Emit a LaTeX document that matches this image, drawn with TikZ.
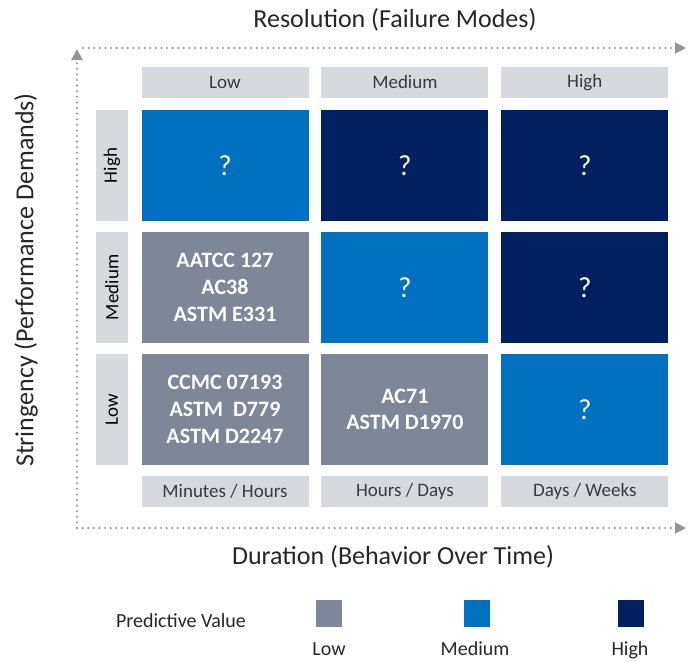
\documentclass[tikz,border=0pt]{standalone}
\usepackage{fontspec}
\setmainfont{Carlito}
\usetikzlibrary{arrows.meta,positioning}
\definecolor{pvLow}{HTML}{7D8797}
\definecolor{pvMed}{HTML}{0070C0}
\definecolor{pvHigh}{HTML}{002060}
\definecolor{pvHead}{HTML}{D6DADF}
\definecolor{pvInk}{HTML}{262626}
\definecolor{pvText}{HTML}{3A3A3A}
\definecolor{pvAxis}{HTML}{959595}
\tikzset{
  pvcell/.style={
    rectangle, minimum width=167pt, minimum height=111pt, inner sep=0pt,
    text=white, align=center, font=\fontsize{22}{26.7}\selectfont\bfseries
  },
  pvlow/.style={pvcell, fill=pvLow},
  pvmed/.style={pvcell, fill=pvMed},
  pvhigh/.style={pvcell, fill=pvHigh},
  pvask/.style={font=\fontsize{29}{32}\selectfont},
  pvhead/.style={
    rectangle, fill=pvHead, minimum width=167pt, minimum height=31pt,
    inner sep=0pt, text=pvText, font=\fontsize{19}{22}\selectfont
  },
  pvside/.style={
    rectangle, fill=pvHead, rotate=90, minimum width=111pt, minimum height=32pt,
    inner sep=0pt, text=black, font=\fontsize{19}{22}\selectfont
  },
  pvtitle/.style={text=pvInk, inner sep=0pt, anchor=base, font=\fontsize{26}{30}\selectfont},
  pvkey/.style={text=pvInk, inner sep=0pt, anchor=base, font=\fontsize{20}{24}\selectfont},
  pvswatch/.style={rectangle, minimum width=26pt, minimum height=27pt, inner sep=0pt},
  pvaxis/.style={
    draw=pvAxis, line width=2.3pt, line cap=round, dash pattern=on 0pt off 5.6pt,
    -{Triangle[length=11pt, width=11pt]}
  }
}

\begin{document}
\begin{tikzpicture}[x=1pt, y=-1pt, node distance=10.5pt and 12.5pt]
\useasboundingbox (0,0) rectangle (692,661);

% Matriz de celdas (fila = exigencia, columna = resolución)
\node[pvmed, pvask] (hl) at (225,165.5) {?};
\node[pvhigh, pvask, right=of hl] (hm) {?};
\node[pvhigh, pvask, right=of hm] (hh) {?};
\node[pvlow, below=of hl] (ml) {AATCC 127\\AC38\\ASTM E331};
\node[pvmed, pvask, right=of ml] (mm) {?};
\node[pvhigh, pvask, right=of mm] (mh) {?};
\node[pvlow, below=of ml] (ll) {CCMC 07193\\ASTM\ \ D779\\ASTM D2247};
\node[pvlow, right=of ll] (lm) {AC71\\ASTM D1970};
\node[pvmed, pvask, right=of lm] (lh) {?};

% Encabezados de columna
\node[pvhead, above=12pt of hl] (rlow) {Low};
\node[pvhead, above=12pt of hm] (rmed) {Medium};
\node[pvhead, above=12pt of hh] (rhigh) {High};

% Encabezados de fila
\node[pvside] (shigh) at ([xshift=-29.5pt]hl.west) {High};
\node[pvside] (smed) at ([xshift=-29.5pt]ml.west) {Medium};
\node[pvside] (slow) at ([xshift=-29.5pt]ll.west) {Low};

% Duraciones
\node[pvhead, below=11pt of ll] (dmin) {Minutes / Hours};
\node[pvhead, below=11pt of lm] (dhour) {Hours / Days};
\node[pvhead, below=11pt of lh] (dday) {Days / Weeks};

% Ejes punteados
\coordinate (origin) at (77,528);
\coordinate (ytip) at (77,49);
\coordinate (xstart) at (83,48);
\coordinate (xtip) at (686,48);
\coordinate (dtip) at (686,528);
\draw[pvaxis] (origin) -- (ytip);
\draw[pvaxis] (xstart) -- (xtip);
\draw[pvaxis] (origin) -- (dtip);

% Títulos de los ejes
\node[pvtitle] (restitle) at (395,28) {Resolution (Failure Modes)};
\node[pvtitle] (durtitle) at (393,564) {Duration (Behavior Over Time)};
\node[pvtitle, rotate=90, anchor=center] (strtitle) at (26,280) {Stringency (Performance Demands)};

% Leyenda
\node[pvkey] (legend) at (181,627) {Predictive Value};
\node[pvswatch, fill=pvLow] (klow) at (329,613.5) {};
\node[pvswatch, fill=pvMed] (kmed) at (477,613.5) {};
\node[pvswatch, fill=pvHigh] (khigh) at (630.5,613.5) {};
\node[pvkey] (tlow) at (329,655) {Low};
\node[pvkey] (tmed) at (475,655) {Medium};
\node[pvkey] (thigh) at (630,655) {High};

\end{tikzpicture}
\end{document}
